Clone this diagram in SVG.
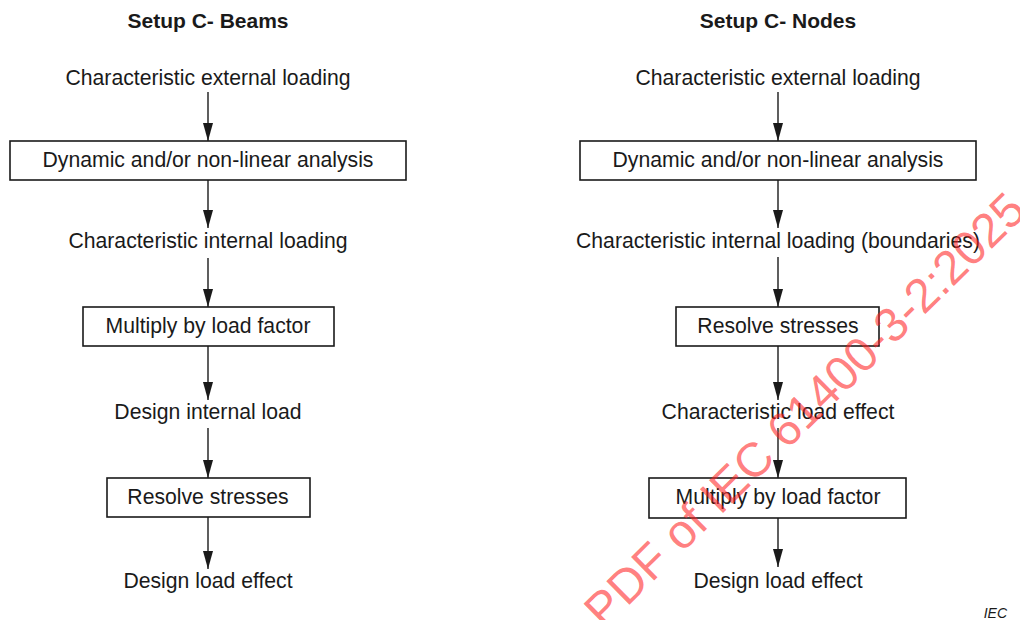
<svg xmlns="http://www.w3.org/2000/svg" width="1020" height="620" viewBox="0 0 1020 620">
  <defs>
    <marker id="arrow" markerUnits="userSpaceOnUse" markerWidth="18" markerHeight="10" refX="18" refY="5" orient="auto">
      <path d="M0,0 L18,5 L0,10 z" fill="#1a1a1a"/>
    </marker>
    <style>
      text { font-family: "Liberation Sans", Arial, sans-serif; fill: #1a1a1a; }
      .title { font-size: 21px; font-weight: bold; text-anchor: middle; }
      .lbl { font-size: 21.2px; text-anchor: middle; }
      .box { fill: #ffffff; stroke: #1a1a1a; stroke-width: 1.6; }
      .conn line { stroke: #1a1a1a; stroke-width: 1.4; marker-end: url(#arrow); }
      .mark { font-size: 14px; font-style: italic; text-anchor: end; }
      .stamp { font-size: 48px; fill: #ff2020; fill-opacity: 0.58; }
    </style>
  </defs>
  <rect width="1020" height="620" fill="#ffffff"/>

  <!-- connectors -->
  <g id="connectors" class="conn">
    <line x1="208" y1="92" x2="208" y2="141"/>
    <line x1="208" y1="180" x2="208" y2="228"/>
    <line x1="208" y1="258" x2="208" y2="307"/>
    <line x1="208" y1="346" x2="208" y2="400"/>
    <line x1="208" y1="428" x2="208" y2="478"/>
    <line x1="208" y1="517" x2="208" y2="569"/>

    <line x1="778" y1="92" x2="778" y2="141"/>
    <line x1="778" y1="180" x2="778" y2="228"/>
    <line x1="778" y1="257" x2="778" y2="307"/>
    <line x1="778" y1="346" x2="778" y2="400"/>
    <line x1="778" y1="428" x2="778" y2="478"/>
    <line x1="778" y1="518" x2="778" y2="567"/>
  </g>

  <!-- left column: beams -->
  <g id="beams-title"><text class="title" x="208" y="28">Setup C- Beams</text></g>
  <g id="beams-ext-load"><text class="lbl" x="208" y="85">Characteristic external loading</text></g>
  <g id="beams-analysis">
    <rect class="box" x="10" y="141" width="396" height="39"/>
    <text class="lbl" x="208" y="167">Dynamic and/or non-linear analysis</text>
  </g>
  <g id="beams-int-load"><text class="lbl" x="208" y="248">Characteristic internal loading</text></g>
  <g id="beams-factor">
    <rect class="box" x="83" y="307" width="251" height="39"/>
    <text class="lbl" x="208" y="333">Multiply by load factor</text>
  </g>
  <g id="beams-design-int"><text class="lbl" x="208" y="419">Design internal load</text></g>
  <g id="beams-stresses">
    <rect class="box" x="107" y="478" width="203" height="39"/>
    <text class="lbl" x="208" y="504">Resolve stresses</text>
  </g>
  <g id="beams-effect"><text class="lbl" x="208" y="588">Design load effect</text></g>

  <!-- right column: nodes -->
  <g id="nodes-title"><text class="title" x="778" y="28">Setup C- Nodes</text></g>
  <g id="nodes-ext-load"><text class="lbl" x="778" y="85">Characteristic external loading</text></g>
  <g id="nodes-analysis">
    <rect class="box" x="580" y="141" width="396" height="39"/>
    <text class="lbl" x="778" y="167">Dynamic and/or non-linear analysis</text>
  </g>
  <g id="nodes-int-load"><text class="lbl" x="778" y="248">Characteristic internal loading (boundaries)</text></g>
  <g id="nodes-stresses">
    <rect class="box" x="676" y="307" width="203" height="39"/>
    <text class="lbl" x="778" y="333">Resolve stresses</text>
  </g>
  <g id="nodes-char-effect"><text class="lbl" x="778" y="419">Characteristic load effect</text></g>
  <g id="nodes-factor">
    <rect class="box" x="649" y="478" width="257" height="40"/>
    <text class="lbl" x="778" y="504">Multiply by load factor</text>
  </g>
  <g id="nodes-effect"><text class="lbl" x="778" y="588">Design load effect</text></g>

  <text class="mark" x="1007" y="618">IEC</text>

  <!-- diagonal stamp -->
  <text class="stamp" transform="translate(604,630) rotate(-44.5)">PDF of IEC 61400-3-2:2025</text>
</svg>
